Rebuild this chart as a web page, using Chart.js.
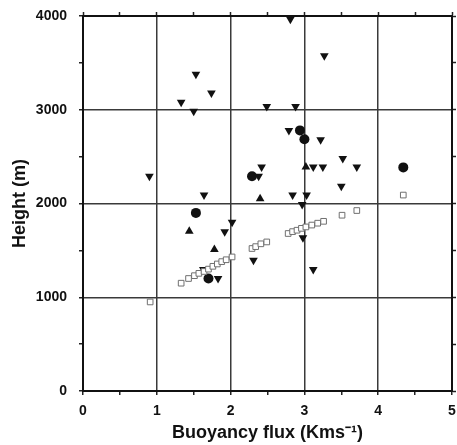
<!DOCTYPE html>
<html>
<head>
<meta charset="utf-8">
<script src="https://cdn.jsdelivr.net/npm/chart.js@4"></script>
<style>
html,body{margin:0;padding:0;background:#fff;}
#wrap{width:457px;height:445px;}
</style>
</head>
<body>
<div id="wrap"><canvas id="c" width="457" height="445"></canvas></div>
<script>
// Data
const downX = [0.90, 1.33, 1.50, 1.53, 1.74, 1.64, 1.92, 2.02, 1.63, 1.83, 2.31, 2.38, 2.42, 2.49, 2.88, 2.81, 3.27, 2.79, 3.22, 3.52, 3.12, 3.25, 3.71, 3.50, 2.84, 3.03, 2.97, 2.98, 3.12];
const downY = [2290, 3080, 2985, 3380, 3180, 2090, 1700, 1800, 1295, 1200, 1395, 2290, 2390, 3035, 3035, 3965, 3575, 2780, 2680, 2480, 2390, 2390, 2390, 2185, 2090, 2090, 1990, 1635, 1295];
const upX = [1.44, 1.78, 2.40, 3.02];
const upY = [1705, 1510, 2050, 2390];
const circX = [1.53, 1.70, 2.29, 2.94, 3.00, 4.34];
const circY = [1900, 1200, 2290, 2780, 2685, 2385];
const sqX = [0.91, 1.33, 1.43, 1.51, 1.57, 1.64, 1.70, 1.76, 1.82, 1.88, 1.94, 2.02, 2.29, 2.34, 2.41, 2.49, 2.78, 2.84, 2.90, 2.96, 3.02, 3.10, 3.18, 3.26, 3.51, 3.71, 4.34];
const sqY = [950, 1150, 1200, 1230, 1255, 1275, 1300, 1330, 1355, 1380, 1400, 1430, 1520, 1540, 1570, 1590, 1680, 1700, 1715, 1735, 1750, 1770, 1790, 1810, 1875, 1925, 2090];

const xMin = 0, xMax = 5, xStep = 0.5;
const yMin = 0, yMax = 4000, yStep = 500;
const xTitle = 'Buoyancy flux (Kms\u207B\u00B9)';
const yTitle = 'Height (m)';

const pts = (xs, ys) => xs.map((x, i) => ({x: x, y: ys[i]}));
const FONT = '"Liberation Sans", Arial, Helvetica, sans-serif';

const majorGrid = (ctx, step) => (ctx.tick && Math.abs(ctx.tick.value / step - Math.round(ctx.tick.value / step)) < 1e-6) ? '#3a3a3a' : 'rgba(0,0,0,0)';

new Chart(document.getElementById('c'), {
  type: 'scatter',
  data: {
    datasets: [
      {label: 'sq', data: pts(sqX, sqY), pointStyle: 'rect', pointRadius: 4, backgroundColor: '#fff', borderColor: '#707070', borderWidth: 1, clip: false},
      {label: 'down', data: pts(downX, downY), pointStyle: 'triangle', rotation: 180, pointRadius: 5, backgroundColor: '#111', borderColor: '#111', borderWidth: 0, clip: false},
      {label: 'up', data: pts(upX, upY), pointStyle: 'triangle', pointRadius: 5, backgroundColor: '#111', borderColor: '#111', borderWidth: 0, clip: false},
      {label: 'circ', data: pts(circX, circY), pointStyle: 'circle', pointRadius: 5, backgroundColor: '#111', borderColor: '#111', borderWidth: 0, clip: false}
    ]
  },
  options: {
    responsive: false,
    animation: false,
    events: [],
    layout: {padding: 0},
    plugins: {legend: {display: false}, tooltip: {enabled: false}},
    scales: {
      x: {
        type: 'linear', position: 'bottom', min: xMin, max: xMax,
        afterFit: s => { s.height = 54; s.paddingLeft = 0; s.paddingRight = 0; },
        ticks: {stepSize: xStep, padding: 8, color: '#111', font: {family: FONT, size: 14, weight: 'bold'},
          callback: v => (Math.abs(v - Math.round(v)) < 1e-6 ? String(Math.round(v)) : '')},
        grid: {color: ctx => majorGrid(ctx, 1), lineWidth: 1.5, tickColor: '#222', tickWidth: 1.5, tickLength: 4},
        border: {display: true, color: '#111', width: 2},
        title: {display: true, text: xTitle, color: '#111', font: {family: FONT, size: 18, weight: 'bold'}, padding: {top: 0, bottom: 1}}
      },
      x2: {
        type: 'linear', position: 'top', min: xMin, max: xMax,
        afterFit: s => { s.height = 16; s.paddingLeft = 0; s.paddingRight = 0; },
        ticks: {display: false, stepSize: xStep},
        grid: {drawOnChartArea: false, tickColor: '#222', tickWidth: 1.5, tickLength: 4},
        border: {display: true, color: '#111', width: 2}
      },
      y: {
        type: 'linear', position: 'left', min: yMin, max: yMax,
        afterFit: s => { s.width = 83; s.paddingTop = 0; s.paddingBottom = 0; },
        ticks: {stepSize: yStep, padding: 12, color: '#111', font: {family: FONT, size: 14, weight: 'bold'},
          callback: v => (v % 1000 === 0 ? String(v) : '')},
        grid: {color: ctx => majorGrid(ctx, 1000), lineWidth: 1.5, tickColor: '#222', tickWidth: 1.5, tickLength: 4},
        border: {display: true, color: '#111', width: 2},
        title: {display: true, text: yTitle, color: '#111', font: {family: FONT, size: 18, weight: 'bold'}, padding: {top: 9, bottom: 0}}
      },
      y2: {
        type: 'linear', position: 'right', min: yMin, max: yMax,
        afterFit: s => { s.width = 5; s.paddingTop = 0; s.paddingBottom = 0; },
        ticks: {display: false, stepSize: yStep},
        grid: {drawOnChartArea: false, tickColor: '#222', tickWidth: 1.5, tickLength: 4},
        border: {display: true, color: '#111', width: 2}
      }
    }
  }
});
</script>
</body>
</html>
